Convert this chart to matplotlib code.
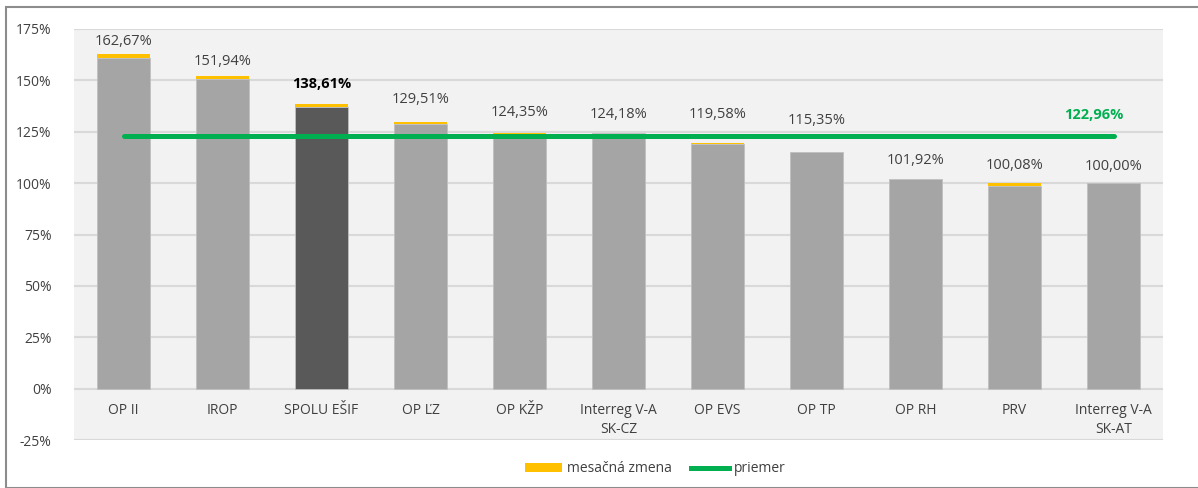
import matplotlib.pyplot as plt
import numpy as np
from matplotlib.patches import Patch, Rectangle
from matplotlib.lines import Line2D

plt.rcParams['font.family'] = ['Open Sans', 'DejaVu Sans']

categories = ['OP II', 'IROP', 'SPOLU EŠIF', 'OP ĽZ', 'OP KŽP', 'Interreg V-A\nSK-CZ',
              'OP EVS', 'OP TP', 'OP RH', 'PRV', 'Interreg V-A\nSK-AT']
totals = [162.67, 151.94, 138.61, 129.51, 124.35, 124.18, 119.58, 115.35, 101.92, 100.08, 100.00]
monthly_change = [1.7, 1.5, 1.4, 0.6, 0.5, 0.0, 0.6, 0.0, 0.0, 1.5, 0.0]
average = 122.96
total_labels = ['162,67%', '151,94%', '138,61%', '129,51%', '124,35%', '124,18%',
                '119,58%', '115,35%', '101,92%', '100,08%', '100,00%']
avg_label = '122,96%'
yticks = [-25, 0, 25, 50, 75, 100, 125, 150, 175]

# label offsets above bar tops (px), as placed in the original
label_offsets = [12.5, 15, 20, 22.7, 20.6, 18.7, 28, 30.8, 18.8, 17.2, 16.7]

GRAY = '#a5a5a5'
DARK = '#595959'
YELLOW = '#ffc000'
GREEN = '#00b050'
TXT = '#404040'

x = np.arange(len(categories))
base = [t - m for t, m in zip(totals, monthly_change)]
colors = [DARK if c == 'SPOLU EŠIF' else GRAY for c in categories]

fig = plt.figure(figsize=(11.98, 4.88), dpi=100)
fig.patches.append(Rectangle((6 / 1198, 0), 1, 1 - 6.5 / 488, transform=fig.transFigure,
                             fill=False, edgecolor='#8c8c8c', linewidth=1.5))
ax = fig.add_axes([74 / 1198, 1 - 440 / 488, (1163 - 74) / 1198, (440 - 29) / 488])
ax.set_facecolor('#f2f2f2')

ax.bar(x, base, width=0.535, color=colors, edgecolor='#c0c0c0', linewidth=0.6, zorder=2)
ax.bar(x, monthly_change, bottom=base, width=0.535, color=YELLOW, linewidth=0, zorder=2)
ax.plot([x[0], x[-1]], [average, average], color=GREEN, linewidth=3.6,
        solid_capstyle='round', zorder=3)

for i, (t, lab) in enumerate(zip(totals, total_labels)):
    bold = categories[i] == 'SPOLU EŠIF'
    ax.annotate(lab, (x[i], t), xytext=(0, label_offsets[i] * 0.72), textcoords='offset points',
                ha='center', va='center', fontsize=10.5, color='black' if bold else TXT,
                fontweight='bold' if bold else 'normal')
ax.annotate(avg_label, (x[-1], average), xytext=(-20 * 0.72, 21 * 0.72), textcoords='offset points',
            ha='center', va='center', fontsize=10.5, color=GREEN, fontweight='bold')

ax.set_xlim(-0.5, len(categories) - 0.5)
ax.set_ylim(-25, 175)
ax.set_yticks(yticks)
ax.set_yticklabels([f'{v}%' for v in yticks], fontsize=10, color=TXT)
ax.set_xticks(x)
ax.set_xticklabels(categories, fontsize=10, color=TXT, linespacing=1.45)
ax.tick_params(length=0)
ax.tick_params(axis='x', pad=-27)
ax.tick_params(axis='y', pad=16)
ax.yaxis.grid(True, color='#d9d9d9', linewidth=1.5, zorder=1)
ax.set_axisbelow(True)
for s in ax.spines.values():
    s.set_visible(False)

handles = [Patch(facecolor=YELLOW, edgecolor='none'),
           Line2D([0], [0], color=GREEN, linewidth=3.6)]
fig.legend(handles, ['mesačná zmena', 'priemer'], loc='center', bbox_to_anchor=(655 / 1198, 1 - 469 / 488),
           ncol=2, frameon=False, fontsize=10, handlelength=2.7, handleheight=0.6,
           handletextpad=0.35, columnspacing=1.4, labelcolor=TXT)

fig.savefig('out.png', dpi=100)
